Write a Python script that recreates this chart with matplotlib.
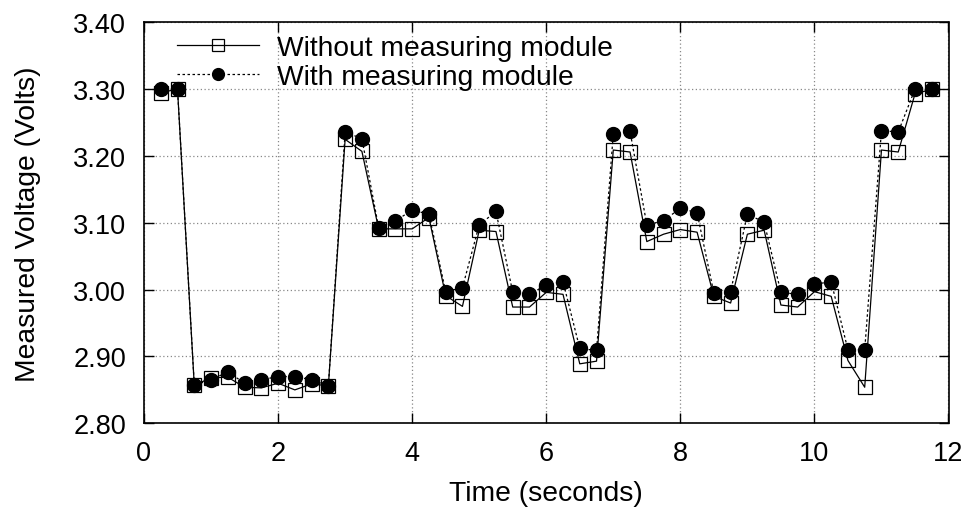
import matplotlib
matplotlib.use("Agg")
import matplotlib.pyplot as plt
from matplotlib.ticker import FormatStrFormatter, MultipleLocator

plt.rcParams['font.family'] = ['Liberation Sans', 'DejaVu Sans']

time_s = [0.25, 0.5, 0.75, 1.0, 1.25, 1.5, 1.75, 2.0, 2.25, 2.5, 2.75,
          3.0, 3.25, 3.5, 3.75, 4.0, 4.25, 4.5, 4.75, 5.0, 5.25, 5.5, 5.75,
          6.0, 6.25, 6.5, 6.75, 7.0, 7.25, 7.5, 7.75, 8.0, 8.25, 8.5, 8.75,
          9.0, 9.25, 9.5, 9.75, 10.0, 10.25, 10.5, 10.75, 11.0, 11.25, 11.5, 11.75]

without_module = [3.295, 3.300, 2.857, 2.868, 2.869, 2.854, 2.853, 2.860, 2.850, 2.859, 2.856,
                  3.225, 3.207, 3.091, 3.091, 3.091, 3.108, 2.991, 2.975, 3.089, 3.087, 2.974, 2.974,
                  2.996, 2.993, 2.889, 2.893, 3.209, 3.206, 3.072, 3.083, 3.090, 3.086, 2.990, 2.980,
                  3.083, 3.089, 2.977, 2.974, 2.997, 2.990, 2.894, 2.854, 3.209, 3.206, 3.293, 3.300]

with_module = [3.300, 3.300, 2.857, 2.865, 2.877, 2.860, 2.865, 2.870, 2.870, 2.865, 2.856,
               3.236, 3.226, 3.093, 3.103, 3.119, 3.113, 2.997, 3.003, 3.097, 3.117, 2.996, 2.993,
               3.007, 3.012, 2.912, 2.909, 3.233, 3.237, 3.097, 3.103, 3.122, 3.115, 2.995, 2.997,
               3.113, 3.101, 2.996, 2.993, 3.008, 3.012, 2.910, 2.910, 3.238, 3.236, 3.300, 3.300]

series_labels = ["Without measuring module", "With measuring module"]

fig = plt.figure(figsize=(9.7, 5.1), dpi=100)
ax = fig.add_axes([144/970, 1 - 424.3/510, 804.5/970, 400.9/510])

FS_TICK = 19.5
FS_LAB = 20.3
ax.plot(time_s, without_module, '-', color='black', lw=0.9,
        marker='s', markersize=10, markerfacecolor='none', markeredgecolor='black',
        markeredgewidth=0.9, label=series_labels[0])
ax.plot(time_s, with_module, linestyle=(0, (2, 2)), color='black', lw=0.9,
        marker='o', markersize=10, markerfacecolor='black', markeredgecolor='black',
        label=series_labels[1])

ax.set_xlim(0, 12)
ax.set_ylim(2.80, 3.40)
ax.xaxis.set_major_locator(MultipleLocator(2))
ax.yaxis.set_major_locator(MultipleLocator(0.1))
ax.yaxis.set_major_formatter(FormatStrFormatter('%.2f'))
ax.grid(True, color='#888888', linestyle=(0, (1, 2)), linewidth=0.9)
ax.tick_params(direction='in', length=7, width=1.0, top=True, right=True,
               labelsize=FS_TICK, colors='black')
ax.tick_params(axis='x', pad=12)
ax.tick_params(axis='y', pad=13)
for s in ax.spines.values():
    s.set_linewidth(1.2)

ax.set_xlabel("Time (seconds)", fontsize=FS_LAB)
ax.set_ylabel("Measured Voltage (Volts)", fontsize=FS_LAB)
ax.xaxis.set_label_coords(0.5, -0.142)
ax.yaxis.set_label_coords(-0.128, 0.5)

leg = ax.legend(loc='upper left', bbox_to_anchor=(0.041, 0.969), frameon=False,
                fontsize=FS_LAB, handlelength=2.9, handletextpad=0.64,
                labelspacing=0.12, borderpad=0, borderaxespad=0, markerscale=0.85)

fig.savefig("out.png", dpi=100)
